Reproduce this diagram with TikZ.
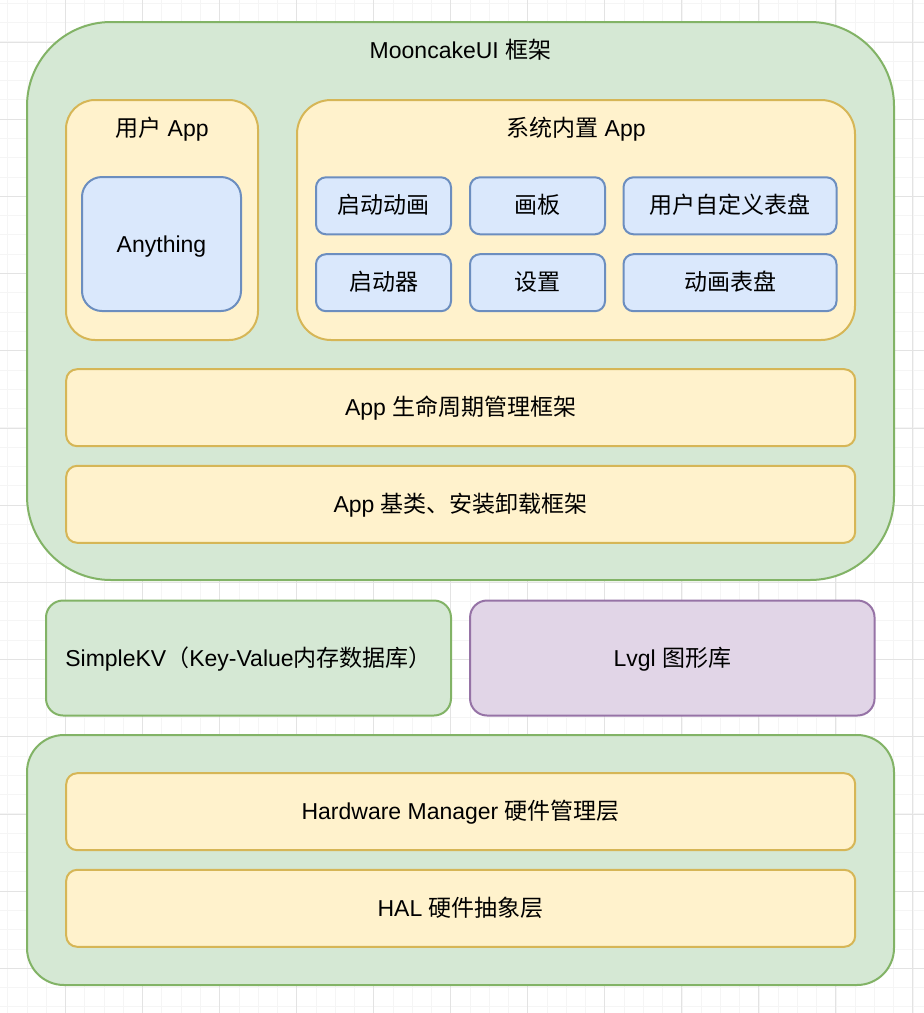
\documentclass[tikz,border=0pt]{standalone}
\usepackage{fontspec}
\setmainfont{Liberation Sans}
\newfontfamily\cjk{Noto Sans CJK SC}
\definecolor{greenfill}{HTML}{D5E8D4}
\definecolor{greenline}{HTML}{82B366}
\definecolor{yellowfill}{HTML}{FFF2CC}
\definecolor{yellowline}{HTML}{D6B656}
\definecolor{bluefill}{HTML}{DAE8FC}
\definecolor{blueline}{HTML}{6C8EBF}
\definecolor{purplefill}{HTML}{E1D5E7}
\definecolor{purpleline}{HTML}{9673A6}
\tikzset{
	box/.style={line width=2pt, inner sep=0pt, align=center, text height=18.4pt, text depth=2.3pt, font=\fontsize{23}{28}\selectfont},
	greenbox/.style={box, fill=greenfill, draw=greenline},
	yellowbox/.style={box, fill=yellowfill, draw=yellowline},
	bluebox/.style={box, fill=bluefill, draw=blueline},
	purplebox/.style={box, fill=purplefill, draw=purpleline},
	title/.style={inner sep=0pt, text height=18.4pt, text depth=2.3pt, font=\fontsize{23}{28}\selectfont},
	gridminor/.style={line width=1pt, color=black!4},
	gridmajor/.style={line width=1pt, color=black!11}
}

\begin{document}
\begin{tikzpicture}[x=1pt, y=-1pt]
			%%%%% GRID %%%%%
			\useasboundingbox (0, 0) rectangle (924, 1013);
			\fill[white] (0, 0) rectangle (924, 1013);
			\foreach \i in {0,...,47} \draw[gridminor] ({7.9+19.26*\i}, 0) -- ++(0, 1013);
			\foreach \i in {0,...,52} \draw[gridminor] (0, {3.3+19.3*\i}) -- ++(924, 0);
			\foreach \i in {0,...,11} \draw[gridmajor] ({65+77.05*\i}, 0) -- ++(0, 1013);
			\foreach \i in {0,...,12} \draw[gridmajor] (0, {42+77.2*\i}) -- ++(924, 0);
			
			%%%%% FRAMEWORK %%%%%
			\node[greenbox, minimum width=867pt, minimum height=558pt, rounded corners=84pt] (framework) at (460.5, 301) {};
			\node[title] (framework-title) at (460.5, 50) {MooncakeUI {\cjk 框架}};
			
			\node[yellowbox, minimum width=192pt, minimum height=240pt, rounded corners=29pt] (userapp) at (162, 220) {};
			\node[title] (userapp-title) at (162, 128) {{\cjk 用户} App};
			\node[bluebox, minimum width=159pt, minimum height=134pt, rounded corners=20pt] (anything) at (161.5, 244) {Anything};
			
			\node[yellowbox, minimum width=558pt, minimum height=240pt, rounded corners=34pt] (sysapp) at (576, 220) {};
			\node[title] (sysapp-title) at (576, 128) {{\cjk 系统内置} App};
			\node[bluebox, minimum width=135pt, minimum height=57pt, rounded corners=10pt] (bootanim) at (383.5, 205.8) {\cjk 启动动画};
			\node[bluebox, minimum width=135pt, minimum height=57pt, rounded corners=10pt] (board) at (537.5, 205.8) {\cjk 画板};
			\node[bluebox, minimum width=213pt, minimum height=57pt, rounded corners=10pt] (userdial) at (730, 205.8) {\cjk 用户自定义表盘};
			\node[bluebox, minimum width=135pt, minimum height=57pt, rounded corners=10pt] (launcher) at (383.5, 282.7) {\cjk 启动器};
			\node[bluebox, minimum width=135pt, minimum height=57pt, rounded corners=10pt] (settings) at (537.5, 282.7) {\cjk 设置};
			\node[bluebox, minimum width=213pt, minimum height=57pt, rounded corners=10pt] (animdial) at (730, 282.7) {\cjk 动画表盘};
			
			\node[yellowbox, minimum width=789pt, minimum height=77pt, rounded corners=11pt] (lifecycle) at (460.7, 407.7) {App {\cjk 生命周期管理框架}};
			\node[yellowbox, minimum width=789pt, minimum height=77pt, rounded corners=11pt] (appbase) at (460.7, 504.3) {App {\cjk 基类、安装卸载框架}};
			
			%%%%% MIDDLE %%%%%
			\node[greenbox, minimum width=405pt, minimum height=115pt, rounded corners=17pt] (simplekv) at (248.5, 658) {SimpleKV{\cjk （}Key-Value{\cjk 内存数据库）}};
			\node[purplebox, minimum width=404.5pt, minimum height=115pt, rounded corners=17pt] (lvgl) at (672.3, 658) {Lvgl {\cjk 图形库}};
			
			%%%%% HARDWARE %%%%%
			\node[greenbox, minimum width=867pt, minimum height=250pt, rounded corners=37pt] (hardware) at (460.5, 860) {};
			\node[yellowbox, minimum width=789pt, minimum height=77pt, rounded corners=11pt] (hwmanager) at (460.7, 811.7) {Hardware Manager {\cjk 硬件管理层}};
			\node[yellowbox, minimum width=789pt, minimum height=77pt, rounded corners=11pt] (hal) at (460.7, 908.3) {HAL {\cjk 硬件抽象层}};
			
			%%%%% END %%%%%
\end{tikzpicture}
\end{document}
